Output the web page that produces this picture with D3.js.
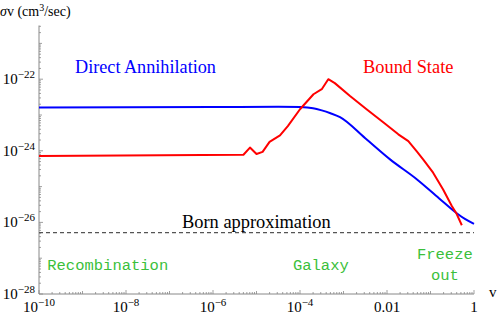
<!DOCTYPE html>
<html><head><meta charset="utf-8">
<script src="https://cdn.jsdelivr.net/npm/d3@7/dist/d3.min.js"></script>
<style>body{margin:0;background:#fff}svg{display:block}
.serif{font-family:"Liberation Serif","Times New Roman",Times,"DejaVu Serif",serif}
.mono{font-family:"Liberation Mono","Courier New",Courier,"DejaVu Sans Mono",monospace}
</style>
</head><body><div id="chart"></div>
<script>
// Data (log10 values)
const directLogV   = [-10, -6, -4.5, -4.0, -3.7, -3.5, -3.3, -3.08, -2.5, -1.93, -1.31, -0.8, -0.39, -0.2, 0];
const directLogSig = [-22.79, -22.78, -22.77, -22.78, -22.81, -22.87, -22.95, -23.06, -23.65, -24.24, -24.80, -25.33, -25.75, -25.91, -26.04];
const boundLogV   = [-10, -5.30, -5.15, -5.00, -4.86, -4.70, -4.46, -4.28, -4.00, -3.69, -3.50, -3.35, -3.20, -2.85, -2.47, -2.08, -1.74, -1.51, -1.32, -1.17, -0.94, -0.71, -0.51, -0.40, -0.28];
const boundLogSig = [-24.145, -24.11, -23.91, -24.09, -24.03, -23.75, -23.57, -23.31, -22.84, -22.42, -22.28, -22.00, -22.11, -22.47, -22.84, -23.21, -23.54, -23.73, -24.01, -24.24, -24.61, -25.08, -25.54, -25.76, -26.08];
const bornValue = 5.2e-27;
const xRange = [1e-10, 1];
const yRange = [1e-28, Math.pow(10, -20.5)];
const xTickExps = [-10, -8, -6, -4, -2, 0];
const xTickLabels = [["10","−10"],["10","−8"],["10","−6"],["10","−4"],["0.01",""],["1",""]];
const yTickExps = [-28, -26, -24, -22];
const regionLabels = [
  {lines:["Recombination"], v:Math.pow(10,-8.42)},
  {lines:["Galaxy"], v:Math.pow(10,-3.52)},
  {lines:["Freeze","out"], v:Math.pow(10,-0.67)}
];

const W = 498, H = 319;
const svg = d3.select("#chart").append("svg").attr("width", W).attr("height", H);
const x = d3.scaleLog().domain(xRange).range([39, 474]);
const y = d3.scaleLog().domain(yRange).range([294, 25.5]);

const axisColor = "#888";

// Axes lines
svg.append("line").attr("x1", x(xRange[0])).attr("x2", x(xRange[0])).attr("y1", y(yRange[0])).attr("y2", y(yRange[1])).attr("stroke", axisColor).attr("stroke-width", 1);
svg.append("line").attr("x1", x(xRange[0])).attr("x2", x(xRange[1])).attr("y1", y(yRange[0])).attr("y2", y(yRange[0])).attr("stroke", axisColor).attr("stroke-width", 1);

// Y ticks
const yTicks = [];
for (let e = -28; e <= -21; e++) {
  for (let k = 1; k <= 9; k++) {
    const val = k * Math.pow(10, e);
    if (val > yRange[1]) continue;
    yTicks.push({val, major: k === 1 && e % 2 === 0, mid: k === 1});
  }
}
svg.selectAll(".yt").data(yTicks).enter().append("line")
  .attr("x1", x(xRange[0])).attr("x2", d => x(xRange[0]) + (d.major ? 4 : d.mid ? 3 : 2))
  .attr("y1", d => y(d.val)).attr("y2", d => y(d.val))
  .attr("stroke", axisColor).attr("stroke-width", 0.8);

// X ticks
const xTicks = [];
for (let e = -10; e <= 0; e++) {
  for (let k = 1; k <= 9; k++) {
    const val = k * Math.pow(10, e);
    if (val > xRange[1] * 1.0001) continue;
    xTicks.push({val, major: k === 1 && e % 2 === 0, mid: k === 1});
  }
}
svg.selectAll(".xt").data(xTicks).enter().append("line")
  .attr("x1", d => x(d.val)).attr("x2", d => x(d.val))
  .attr("y1", y(yRange[0])).attr("y2", d => y(yRange[0]) - (d.major ? 4 : d.mid ? 3 : 2))
  .attr("stroke", axisColor).attr("stroke-width", 0.8);

// Y tick labels
yTickExps.forEach(e => {
  const t = svg.append("text").attr("class", "serif").attr("x", 35).attr("y", y(Math.pow(10, e)) + 5)
    .attr("text-anchor", "end").attr("font-size", 15).attr("fill", "#000");
  t.append("tspan").text("10");
  t.append("tspan").attr("dy", -6).attr("font-size", 11).text("−" + Math.abs(e));
});

// X tick labels
xTickExps.forEach((e, i) => {
  const lab = xTickLabels[i];
  const t = svg.append("text").attr("class", "serif").attr("x", x(Math.pow(10, e))).attr("y", 312)
    .attr("text-anchor", "middle").attr("font-size", 15).attr("fill", "#000");
  t.append("tspan").text(lab[0]);
  if (lab[1]) t.append("tspan").attr("dy", -6).attr("font-size", 11).text(lab[1]);
});

// Axis labels
const yl = svg.append("text").attr("class", "serif").attr("x", 0).attr("y", 16).attr("font-size", 14).attr("fill", "#000");
yl.append("tspan").attr("font-style", "italic").text("σ");
yl.append("tspan").text("v (cm");
yl.append("tspan").attr("dy", -5).attr("font-size", 10).text("3");
yl.append("tspan").attr("dy", 5).text("/sec)");
svg.append("text").attr("class", "serif").attr("x", 489).attr("y", 297).attr("font-size", 15).attr("fill", "#000").text("v");

// Born line
svg.append("line").attr("x1", x(xRange[0])).attr("x2", x(xRange[1]))
  .attr("y1", y(bornValue)).attr("y2", y(bornValue))
  .attr("stroke", "#555").attr("stroke-width", 1.3).attr("stroke-dasharray", "4,3");

// Curves
const blueData = directLogV.map((v, i) => [Math.pow(10, v), Math.pow(10, directLogSig[i])]);
const redData = boundLogV.map((v, i) => [Math.pow(10, v), Math.pow(10, boundLogSig[i])]);
const lineB = d3.line().x(d => x(d[0])).y(d => y(d[1])).curve(d3.curveMonotoneX);
const lineR = d3.line().x(d => x(d[0])).y(d => y(d[1])).curve(d3.curveLinear);
svg.append("path").datum(blueData).attr("d", lineB).attr("fill", "none").attr("stroke", "#0000ff").attr("stroke-width", 2);
svg.append("path").datum(redData).attr("d", lineR).attr("fill", "none").attr("stroke", "#ff0000").attr("stroke-width", 2).attr("stroke-linejoin", "round");

// Curve labels
svg.append("text").attr("class", "serif").attr("x", 75).attr("y", 73).attr("font-size", 18.2).attr("fill", "#0000ff").text("Direct Annihilation");
svg.append("text").attr("class", "serif").attr("x", 363).attr("y", 73).attr("font-size", 18.4).attr("fill", "#ff0000").text("Bound State");
svg.append("text").attr("class", "serif").attr("x", 182).attr("y", 228).attr("font-size", 18.4).attr("fill", "#000").text("Born approximation");

// Region labels
regionLabels.forEach(r => {
  const t = svg.append("text").attr("class", "mono").attr("x", x(r.v)).attr("font-size", 15.5)
    .attr("fill", "#3bbf3b").attr("text-anchor", "middle");
  if (r.lines.length === 1) {
    t.attr("y", 270).text(r.lines[0]);
  } else {
    t.append("tspan").attr("x", x(r.v)).attr("y", 259).text(r.lines[0]);
    t.append("tspan").attr("x", x(r.v)).attr("y", 280).text(r.lines[1]);
  }
});
</script></body></html>
